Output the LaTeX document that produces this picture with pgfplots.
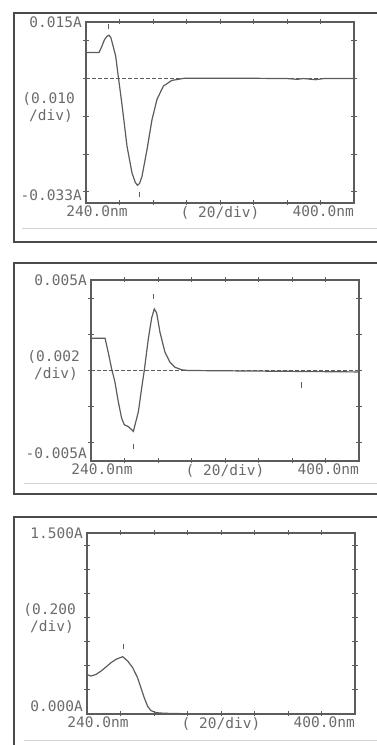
\documentclass[border=0pt]{standalone}
\usepackage{fontspec}
\setmainfont{DejaVu Sans Mono}
\usepackage{pgfplots}
\usepackage{pgfplotstable}
\pgfplotsset{compat=1.18}
\definecolor{ink}{HTML}{5C5C5C}
\definecolor{txt}{HTML}{6A6A6A}
\definecolor{boxc}{HTML}{4A4A4A}
\definecolor{rulec}{HTML}{D4D4D4}

\pgfplotstableread{
nm A
240 0.0069
247.8 0.0069
249.5 0.0086
251.0 0.0103
252.5 0.0112
253.7 0.0115
254.8 0.0109
255.9 0.0091
257.7 0.0060
259.2 0.0008
261.6 -0.0073
264.5 -0.0180
267.5 -0.0251
269.5 -0.0276
270.7 -0.0283
272.0 -0.0278
273.4 -0.0260
276.4 -0.0189
279.4 -0.0109
282.4 -0.0055
286.2 -0.0020
291.2 -0.0005
299 0.0001
330 0.0001
360 0.0000
366 -0.0002
370 0.0000
377 -0.0003
382 0.0000
400 0.0000
}\dataA

\pgfplotstableread{
nm A
240 0.00178
248.4 0.00178
250.3 0.0010
252.3 0.0001
254.3 -0.00064
256.3 -0.00173
258.3 -0.00264
259.9 -0.0030
262.3 -0.0031
265.3 -0.00336
268.3 -0.00227
270.2 -0.0010
271.8 0.0000
274.2 0.00173
276.2 0.0029
277.8 0.0034
279.2 0.00318
281.2 0.0021
284.2 0.0010
287.2 0.00045
290.1 0.00018
294.1 0.00004
298.1 0.0000
400 -0.00008
}\dataB

\pgfplotstableread{
nm A
240 0.328
242.4 0.314
245.4 0.328
248.4 0.356
251.3 0.389
254.3 0.425
257.3 0.453
261.3 0.475
264.3 0.439
267.3 0.383
270.2 0.300
272.2 0.217
274.2 0.133
276.2 0.064
278.2 0.028
281.2 0.011
286.2 0.006
296.1 0.003
306 0.001
320 0.000
400 0.000
}\dataC

\pgfplotsset{
  spec/.style={
    scale only axis, width=268pt, height=181pt,
    anchor=north west, clip=false,
    xmin=240, xmax=400, xtick={260,280,...,380},
    xticklabels={}, yticklabels={},
    scaled x ticks=false, scaled y ticks=false,
    axis line style={ink, line width=1.1pt},
    tick style={ink, line width=0.9pt},
    tick align=center, major tick length=5pt,
  },
}
\tikzset{lab/.style={txt, inner sep=0pt, font=\fontsize{14.5}{14.5}\selectfont}}

\begin{document}
\begin{tikzpicture}[x=1pt,y=1pt]
\useasboundingbox (0,0) rectangle (377,745);
\clip (0,0) rectangle (377,745);
% outer boxes
\draw[boxc, line width=1.2pt] (385,732) -- (14,732) -- (14,503) -- (385,503);
\draw[rulec, line width=0.8pt] (22,517) -- (385,517);
\draw[boxc, line width=1.2pt] (385,482) -- (14,482) -- (14,251) -- (385,251);
\draw[rulec, line width=0.8pt] (24,262) -- (385,262);
\draw[boxc, line width=1.2pt] (385,228) -- (14,228) -- (14,-5);
\draw[rulec, line width=0.8pt] (24,5) -- (385,5);

% panel 1
\begin{axis}[spec, at={(86pt,723pt)}, ymin=-0.033, ymax=0.015,
  ytick={-0.03,-0.02,-0.01,0,0.01}]
\addplot[ink, line width=0.9pt, dash pattern=on 4pt off 2pt] coordinates {(240,0) (400,0)};
\addplot[ink, line width=1.2pt] table[x=nm,y=A] {\dataA};
\addplot[only marks, mark=|, mark size=2.6pt, ink, mark options={line width=1pt}] coordinates {(253.6,0.0138) (272.2,-0.0307)};
\node[lab, anchor=east] at ([xshift=-4pt]rel axis cs:0,1) {0.015A};
\node[lab, anchor=east] at ([xshift=-4pt,yshift=8pt]rel axis cs:0,0) {-0.033A};
\node[lab, anchor=east] at ([xshift=-11pt]rel axis cs:0,0.575) {(0.010};
\node[lab, anchor=east] at ([xshift=-13pt]rel axis cs:0,0.48) {/div)};
\node[lab, anchor=north] at ([xshift=11pt,yshift=-3pt]rel axis cs:0,0) {240.0nm};
\node[lab, anchor=north] at ([yshift=-3pt]rel axis cs:0.5,0) {( 20/div)};
\node[lab, anchor=north east] at ([yshift=-3pt]rel axis cs:1,0) {400.0nm};
\end{axis}

% panel 2
\begin{axis}[spec, at={(91pt,465pt)}, ymin=-0.005, ymax=0.005,
  ytick={-0.004,-0.002,0,0.002,0.004}]
\addplot[ink, line width=0.9pt, dash pattern=on 4pt off 2pt] coordinates {(240,0) (400,0)};
\addplot[ink, line width=1.2pt] table[x=nm,y=A] {\dataB};
\addplot[only marks, mark=|, mark size=2.6pt, ink, mark options={line width=1pt}] coordinates {(277.5,0.0041) (265.3,-0.0042) (365.4,-0.0008)};
\node[lab, anchor=east] at ([xshift=-4pt]rel axis cs:0,1) {0.005A};
\node[lab, anchor=east] at ([xshift=-4pt,yshift=8pt]rel axis cs:0,0) {-0.005A};
\node[lab, anchor=east] at ([xshift=-11pt]rel axis cs:0,0.575) {(0.002};
\node[lab, anchor=east] at ([xshift=-13pt]rel axis cs:0,0.48) {/div)};
\node[lab, anchor=north] at ([xshift=11pt,yshift=-3pt]rel axis cs:0,0) {240.0nm};
\node[lab, anchor=north] at ([yshift=-3pt]rel axis cs:0.5,0) {( 20/div)};
\node[lab, anchor=north east] at ([yshift=-3pt]rel axis cs:1,0) {400.0nm};
\end{axis}

% panel 3
\begin{axis}[spec, at={(87pt,212pt)}, ymin=0, ymax=1.5,
  ytick={0.2,0.4,...,1.4}]
\addplot[ink, line width=1.2pt] table[x=nm,y=A] {\dataC};
\addplot[only marks, mark=|, mark size=2.6pt, ink, mark options={line width=1pt}] coordinates {(261.7,0.56)};
\node[lab, anchor=east] at ([xshift=-4pt]rel axis cs:0,1) {1.500A};
\node[lab, anchor=east] at ([xshift=-4pt,yshift=8pt]rel axis cs:0,0) {0.000A};
\node[lab, anchor=east] at ([xshift=-11pt]rel axis cs:0,0.575) {(0.200};
\node[lab, anchor=east] at ([xshift=-13pt]rel axis cs:0,0.48) {/div)};
\node[lab, anchor=north] at ([xshift=11pt,yshift=-3pt]rel axis cs:0,0) {240.0nm};
\node[lab, anchor=north] at ([yshift=-3pt]rel axis cs:0.5,0) {( 20/div)};
\node[lab, anchor=north east] at ([yshift=-3pt]rel axis cs:1,0) {400.0nm};
\end{axis}
\end{tikzpicture}
\end{document}
